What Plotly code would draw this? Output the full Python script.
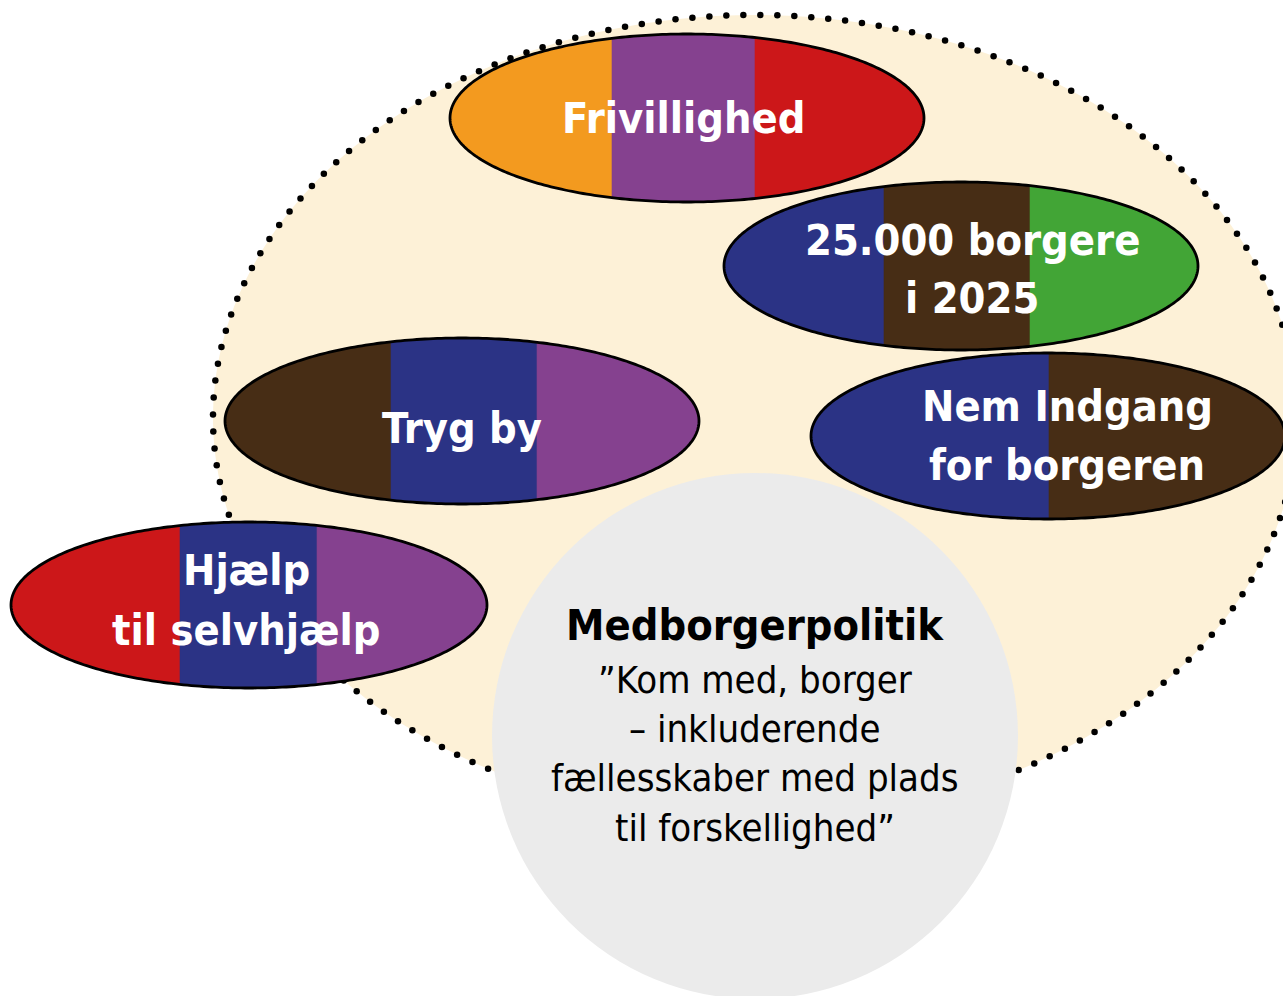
import numpy as np
import plotly.graph_objects as go

W, H = 1283, 996

# ---- data ----
bubble_names = ["Frivillighed", "25.000 borgere i 2025", "Tryg by", "Nem Indgang for borgeren", "Hjælp til selvhjælp"]
bubble_lines = [["Frivillighed"], ["25.000 borgere", "i 2025"], ["Tryg by"], ["Nem Indgang", "for borgeren"], ["Hjælp", "til selvhjælp"]]
bubble_cx = [687, 961, 462, 1048, 249]
bubble_cy = [118, 266, 421, 436, 605]
bubble_a = [237, 237, 237, 237, 238]
bubble_b = [84, 84, 83, 83, 83]
bubble_splits = [[612, 755], [884, 1030], [391, 537], [1049], [180, 317]]
bubble_colors = [
    ["#F39A1F", "#85418F", "#CC1719"],
    ["#2B3385", "#472D15", "#42A536"],
    ["#472D15", "#2B3385", "#85418F"],
    ["#2B3385", "#472D15"],
    ["#CC1719", "#2B3385", "#85418F"],
]
text_cx = [683, 972, 462, 1067, 246]
text_cy = [[118], [240, 298], [428], [406, 465], [570, 630]]

outer = dict(cx=755, cy=418, a=542, b=403, fill="#FDF1D7")
core = dict(cx=755, cy=736, r=263, fill="#EBEBEB")
core_title = "Medborgerpolitik"
core_lines = ["”Kom med, borger", "– inkluderende", "fællesskaber med plads", "til forskellighed”"]
core_title_y = 625
core_lines_y = [680, 729, 778, 828]

FONT_BOLD = "DejaVu Sans Condensed, sans-serif"

fig = go.Figure()
shapes = []
annotations = []


def ellipse_path(cx, cy, a, b, n=240):
    t = np.linspace(0, 2 * np.pi, n, endpoint=False)
    pts = [(cx + a * np.cos(tt), cy + b * np.sin(tt)) for tt in t]
    return "M " + " L ".join(f"{x:.2f},{y:.2f}" for x, y in pts) + " Z"


def stripe_path(cx, cy, a, b, x0, x1, n=120):
    x0 = max(x0, cx - a)
    x1 = min(x1, cx + a)
    u0 = np.arccos(np.clip((x0 - cx) / a, -1, 1))
    u1 = np.arccos(np.clip((x1 - cx) / a, -1, 1))
    u = np.linspace(u0, u1, n)
    xs = cx + a * np.cos(u)
    top = cy - b * np.sin(u)
    bot = cy + b * np.sin(u)
    pts = list(zip(xs, top)) + list(zip(xs[::-1], bot[::-1]))
    return "M " + " L ".join(f"{x:.2f},{y:.2f}" for x, y in pts) + " Z"


# outer cream area
shapes.append(dict(type="path", path=ellipse_path(outer["cx"], outer["cy"], outer["a"], outer["b"], 400),
                   fillcolor=outer["fill"], line=dict(width=0), layer="below", xref="x", yref="y"))

# dotted border as round dots equally spaced along the arc
tt = np.linspace(0, 2 * np.pi, 4000)
ex = outer["cx"] + outer["a"] * np.cos(tt)
ey = outer["cy"] + outer["b"] * np.sin(tt)
seg = np.hypot(np.diff(ex), np.diff(ey))
cum = np.concatenate([[0], np.cumsum(seg)])
spacing = 17.0
targets = np.arange(0, cum[-1], spacing)
dx = np.interp(targets, cum, ex)
dy = np.interp(targets, cum, ey)
fig.add_trace(go.Scatter(x=dx, y=dy, mode="markers",
                         marker=dict(size=6.5, color="black", line=dict(width=0)),
                         hoverinfo="skip", showlegend=False))

# central grey circle
shapes.append(dict(type="circle", x0=core["cx"] - core["r"], x1=core["cx"] + core["r"],
                   y0=core["cy"] - core["r"], y1=core["cy"] + core["r"],
                   fillcolor=core["fill"], line=dict(width=0), layer="above", xref="x", yref="y"))

# coloured bubbles
for i in range(len(bubble_names)):
    cx, cy, a, b = bubble_cx[i], bubble_cy[i], bubble_a[i], bubble_b[i]
    edges = [cx - a] + bubble_splits[i] + [cx + a]
    for j, col in enumerate(bubble_colors[i]):
        shapes.append(dict(type="path", path=stripe_path(cx, cy, a, b, edges[j], edges[j + 1]),
                           fillcolor=col, line=dict(width=0.6, color=col), layer="above",
                           xref="x", yref="y"))
    shapes.append(dict(type="path", path=ellipse_path(cx, cy, a, b, 360),
                       fillcolor="rgba(0,0,0,0)", line=dict(width=2.8, color="black"),
                       layer="above", xref="x", yref="y"))
    for line_txt, ly in zip(bubble_lines[i], text_cy[i]):
        annotations.append(dict(x=text_cx[i], y=ly, text=f"<b>{line_txt}</b>", showarrow=False,
                                xref="x", yref="y", xanchor="center", yanchor="middle",
                                font=dict(family=FONT_BOLD, size=43, color="white")))

annotations.append(dict(x=core["cx"], y=core_title_y, text=f"<b>{core_title}</b>", showarrow=False,
                        xref="x", yref="y", xanchor="center", yanchor="middle",
                        font=dict(family=FONT_BOLD, size=43, color="black")))
for txt, ly in zip(core_lines, core_lines_y):
    annotations.append(dict(x=core["cx"], y=ly, text=txt, showarrow=False,
                            xref="x", yref="y", xanchor="center", yanchor="middle",
                            font=dict(family=FONT_BOLD, size=38, color="black")))

fig.update_layout(
    width=W, height=H,
    margin=dict(l=0, r=0, t=0, b=0),
    paper_bgcolor="white", plot_bgcolor="white",
    xaxis=dict(range=[0, W], visible=False, fixedrange=True),
    yaxis=dict(range=[H, 0], visible=False, fixedrange=True),
    shapes=shapes, annotations=annotations, showlegend=False,
)

fig.write_html("out.html", config={"displayModeBar": False},
               post_script="document.body.style.margin='0';document.body.style.overflow='hidden';")
